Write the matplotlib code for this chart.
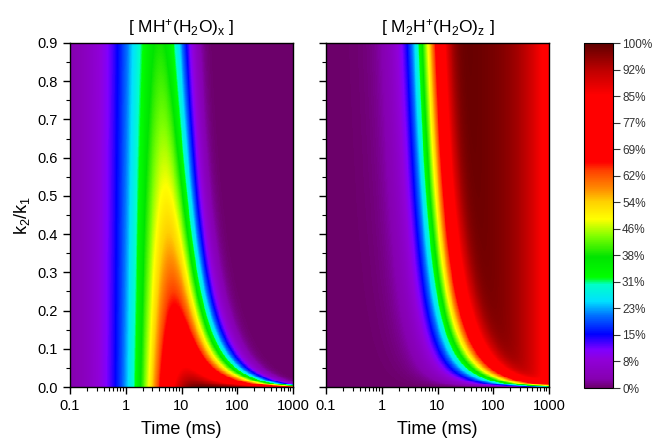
import numpy as np
import matplotlib
matplotlib.use('Agg')
import matplotlib.pyplot as plt
from matplotlib.colors import LinearSegmentedColormap
from matplotlib.ticker import MultipleLocator, LogLocator, NullFormatter, FormatStrFormatter

plt.rcParams['font.family'] = ['Liberation Sans', 'DejaVu Sans']
plt.rcParams['mathtext.fontset'] = 'custom'
plt.rcParams['mathtext.rm'] = 'Liberation Sans'
plt.rcParams['mathtext.it'] = 'Liberation Sans'

# rate constants (per ms)
k1 = 0.26        # MH+ formation
k3 = 2.2e-4      # slow loss of M2H+
ratio = np.linspace(0.0, 0.9, 451)          # k2/k1
time_ms = np.logspace(-1, 3, 700)           # 0.1 .. 1000 ms

titles = ['[ MH$^{\\mathregular{+}}$(H$_{\\mathregular{2}}$O)$_{\\mathregular{x}}$ ]',
          '[ M$_{\\mathregular{2}}$H$^{\\mathregular{+}}$(H$_{\\mathregular{2}}$O)$_{\\mathregular{z}}$ ]']
cbar_ticks = [0, 7.69, 15.38, 23.08, 30.77, 38.46, 46.15, 53.85, 61.54, 69.23, 76.92, 84.62, 92.31, 100]
cbar_labels = ['0%', '8%', '15%', '23%', '31%', '38%', '46%', '54%', '62%', '69%', '77%', '85%', '92%', '100%']

# consecutive reactions  A -> B -> C
T, R = np.meshgrid(time_ms, ratio)
A = np.exp(-k1 * T)
B = (np.exp(-R * k1 * T) - np.exp(-k1 * T)) / (1 - R)
C = (1 - A - B) * np.exp(-k3 * T)
fields = [B * 100, C * 100]

cmap = LinearSegmentedColormap.from_list('origin_rainbow', [
    (0.00, '#6c006a'), (0.025, '#8600b0'), (0.08, '#9000d8'), (0.11, '#8000ff'),
    (0.155, '#0000ff'), (0.21, '#0070ff'), (0.25, '#00e0ff'), (0.30, '#00ffc8'),
    (0.32, '#00ff00'), (0.38, '#00e400'), (0.44, '#80ff00'), (0.49, '#ffff00'),
    (0.54, '#ffd000'), (0.575, '#ff9000'), (0.63, '#ff4000'), (0.655, '#ff0000'),
    (0.85, '#ff0000'), (0.92, '#c00000'), (1.00, '#5e0000')], N=512)

fig = plt.figure(figsize=(6.53, 4.40), dpi=100)
ax1 = fig.add_axes([70/653, 53/440, 223/653, 344/440])
ax2 = fig.add_axes([326/653, 53/440, 223/653, 344/440])
cax = fig.add_axes([584/653, 52/440, 29/653, 345/440])

for ax, Z, title in zip([ax1, ax2], fields, titles):
    mesh = ax.pcolormesh(time_ms, ratio, Z, cmap=cmap, vmin=0, vmax=100,
                         shading='nearest', rasterized=True)
    ax.set_xscale('log')
    ax.set_xlim(0.1, 1000)
    ax.set_ylim(0, 0.9)
    ax.set_xticks([0.1, 1, 10, 100, 1000])
    ax.set_xticklabels(['0.1', '1', '10', '100', '1000'])
    ax.xaxis.set_minor_locator(LogLocator(base=10, subs=np.arange(2, 10)))
    ax.xaxis.set_minor_formatter(NullFormatter())
    ax.set_yticks(np.arange(0, 0.91, 0.1))
    ax.yaxis.set_minor_locator(MultipleLocator(0.05))
    ax.tick_params(which='major', direction='out', length=5, width=1, labelsize=10.5)
    ax.tick_params(which='minor', direction='out', length=3, width=0.8)
    ax.set_xlabel('Time (ms)', fontsize=13, labelpad=6)
    ax.set_title(title, fontsize=12.5, pad=8)
    for s in ax.spines.values():
        s.set_linewidth(1)

ax1.yaxis.set_major_formatter(FormatStrFormatter('%.1f'))
ax1.set_ylabel('k$_{\\mathregular{2}}$/k$_{\\mathregular{1}}$', fontsize=13, labelpad=4)
ax2.set_yticklabels([])

cb = fig.colorbar(mesh, cax=cax)
cb.set_ticks(cbar_ticks)
cb.set_ticklabels(cbar_labels)
cb.ax.tick_params(length=5, width=0.8, labelsize=8.5, pad=1.5, colors='#333333')
cb.outline.set_linewidth(0.8)

plt.savefig('out.png', dpi=100)
